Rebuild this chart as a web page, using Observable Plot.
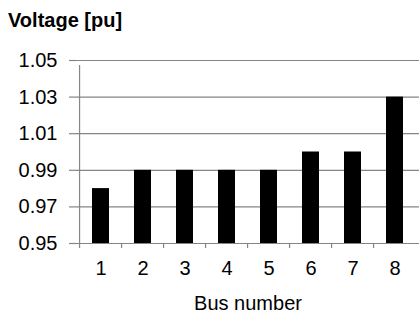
<!DOCTYPE html>
<html>
<head>
<meta charset="utf-8">
<script src="https://cdn.jsdelivr.net/npm/d3@7"></script>
<script src="https://cdn.jsdelivr.net/npm/@observablehq/plot@0.6"></script>
<style>
  html, body { margin: 0; padding: 0; background: #fff; }
  #wrap { position: relative; width: 419px; height: 312px; overflow: hidden; font-family: "Liberation Sans", Arial, sans-serif; }
  #title { position: absolute; left: 8px; top: 10px; font-size: 20px; line-height: 20px; font-weight: bold; color: #000; white-space: nowrap; }
  #chart { position: absolute; left: 0; top: 40px; }
</style>
</head>
<body>
<div id="wrap">
  <div id="title">Voltage [pu]</div>
  <div id="chart"></div>
</div>
<script>
const buses = ["1", "2", "3", "4", "5", "6", "7", "8"];
const voltages = [0.98, 0.99, 0.99, 0.99, 0.99, 1.00, 1.00, 1.03];
const yTicks = [0.95, 0.97, 0.99, 1.01, 1.03, 1.05];
const yDomain = [0.95, 1.05];
const xLabel = "Bus number";

const data = buses.map((b, i) => ({bus: b, v: voltages[i]}));

const W = 419, H = 272, mL = 76, mR = 0, mT = 20, mB = 69;
const half = (W - mL - mR) / buses.length / 2;
const grey = "#858585";

const chart = Plot.plot({
  width: W,
  height: H,
  marginLeft: mL,
  marginRight: mR,
  marginTop: mT,
  marginBottom: mB,
  style: {fontFamily: "Liberation Sans, Arial, sans-serif", fontSize: "20px", color: "#000", background: "#fff"},
  x: {domain: buses, paddingInner: 0.59, paddingOuter: 0.295},
  y: {domain: yDomain},
  marks: [
    Plot.gridY(yTicks, {stroke: grey, strokeOpacity: 1, strokeWidth: 1.2}),
    Plot.axisY(yTicks, {tickSize: 7, tickPadding: 12, stroke: grey, strokeWidth: 1.2, tickFormat: d => d.toFixed(2), fill: "#000", label: null}),
    Plot.ruleX([buses[0]], {dx: -half, y1: yDomain[0], y2: yDomain[1], insetBottom: -5, stroke: grey, strokeWidth: 1.2}),
    Plot.ruleX(buses, {dx: -half, y1: yDomain[0], y2: yDomain[0], insetBottom: -5, stroke: grey, strokeWidth: 1.2}),
    Plot.barY(data, {x: "bus", y1: yDomain[0], y2: "v", fill: "#000"}),
    Plot.axisX({tickSize: 0, tickPadding: 17, fill: "#000", label: xLabel, labelAnchor: "center", labelOffset: 66})
  ]
});
document.getElementById("chart").appendChild(chart);
</script>
</body>
</html>
